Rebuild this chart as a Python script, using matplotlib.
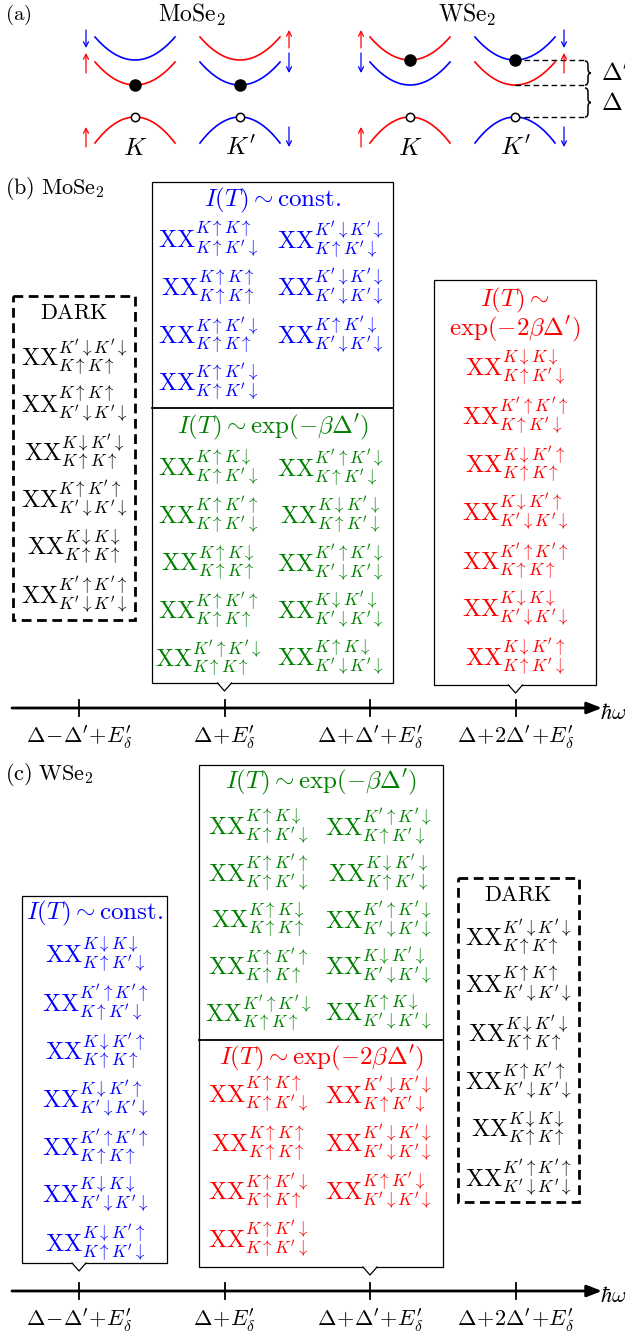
import matplotlib
matplotlib.use("Agg")
import matplotlib.pyplot as plt
from matplotlib.patches import Rectangle, Polygon, PathPatch
from matplotlib.path import Path
import numpy as np

plt.rcParams['mathtext.fontset'] = 'cm'

BLUE = '#0000ff'
RED = '#ff0000'
GREEN = '#008000'

# biexciton states, (upper index, lower index)
group_const_mo = [("K↑K↑", "K↑K'↓"), ("K'↓K'↓", "K↑K'↓"),
                  ("K↑K↑", "K↑K↑"), ("K'↓K'↓", "K'↓K'↓"),
                  ("K↑K'↓", "K↑K↑"), ("K↑K'↓", "K'↓K'↓"),
                  ("K↑K'↓", "K↑K'↓")]
group_exp1 = [("K↑K↓", "K↑K'↓"), ("K'↑K'↓", "K↑K'↓"),
              ("K↑K'↑", "K↑K'↓"), ("K↓K'↓", "K↑K'↓"),
              ("K↑K↓", "K↑K↑"), ("K'↑K'↓", "K'↓K'↓"),
              ("K↑K'↑", "K↑K↑"), ("K↓K'↓", "K'↓K'↓"),
              ("K'↑K'↓", "K↑K↑"), ("K↑K↓", "K'↓K'↓")]
group_exp2_mo = [("K↓K↓", "K↑K'↓"), ("K'↑K'↑", "K↑K'↓"),
                 ("K↓K'↑", "K↑K↑"), ("K↓K'↑", "K'↓K'↓"),
                 ("K'↑K'↑", "K↑K↑"), ("K↓K↓", "K'↓K'↓"),
                 ("K↓K'↑", "K↑K'↓")]
group_dark = [("K'↓K'↓", "K↑K↑"), ("K↑K↑", "K'↓K'↓"),
              ("K↓K'↓", "K↑K↑"), ("K↑K'↑", "K'↓K'↓"),
              ("K↓K↓", "K↑K↑"), ("K'↑K'↑", "K'↓K'↓")]

tick_labels = [r"$\Delta\!-\!\Delta^{\prime}\!+\!E^{\prime}_{\delta}$",
               r"$\Delta\!+\!E^{\prime}_{\delta}$",
               r"$\Delta\!+\!\Delta^{\prime}\!+\!E^{\prime}_{\delta}$",
               r"$\Delta\!+\!2\Delta^{\prime}\!+\!E^{\prime}_{\delta}$"]

# panel (a) band edges (pixel rows): upper cb, lower cb, vb
cb_upper = 60
cb_lower = 85
vb_top = 117
valleys_mo = [("K", [BLUE, RED, RED], 1), ("K'", [RED, BLUE, BLUE], 1)]
valleys_w = [("K", [RED, BLUE, RED], 0), ("K'", [BLUE, RED, BLUE], 0)]

FS = 17.5
FT = 18


def xx(pair):
    def conv(s):
        return s.replace("↑", r"\uparrow ").replace("↓", r"\downarrow ")
    return r"$\mathrm{XX}^{%s}_{%s}$" % (conv(pair[0]), conv(pair[1]))


fig = plt.figure(figsize=(6.25, 13.33), dpi=100)
ax = fig.add_axes([0, 0, 1, 1])
ax.set_xlim(0, 625)
ax.set_ylim(1333, 0)
ax.axis('off')


def box(x0, y0, x1, y1, dashed=False, pointer=None):
    if dashed:
        ax.add_patch(Rectangle((x0, y0), x1 - x0, y1 - y0, fill=False, ec='k',
                               lw=2, ls=(0, (3.5, 2))))
    else:
        ax.add_patch(Rectangle((x0, y0), x1 - x0, y1 - y0, fill=False, ec='k', lw=0.9))
    if pointer is not None:
        ax.add_patch(Polygon([(pointer - 7, y1 - 0.5), (pointer, y1 + 8), (pointer + 7, y1 - 0.5)],
                             closed=True, fc='white', ec='none', zorder=3))
        ax.plot([pointer - 7, pointer, pointer + 7], [y1, y1 + 8, y1], color='k', lw=0.9, zorder=4)


def entries(states, cols, y0, dy, color):
    for i, st in enumerate(states):
        r, c = divmod(i, len(cols))
        ax.text(cols[c], y0 + r * dy, xx(st), color=color, fontsize=FS, ha='center', va='center')


def energy_axis(y):
    ax.annotate('', xy=(602, y), xytext=(12, y),
                arrowprops=dict(arrowstyle='-|>,head_length=0.9,head_width=0.35', lw=2, color='k',
                                shrinkA=0, shrinkB=0))
    for i, lab in enumerate(tick_labels):
        tx = 79 + 145.5 * i
        ax.plot([tx, tx], [y - 8, y + 8], color='k', lw=1.3)
        ax.text(tx, y + 29, lab, fontsize=16, ha='center', va='center')
    ax.text(600, y + 5, r'$\hbar\omega$', fontsize=16, ha='left', va='center')


def brace(x, y0, y1, w=6):
    ym = (y0 + y1) / 2
    r = 4
    xm = x + w / 2
    verts = [(x, y0), (xm, y0), (xm, y0 + r), (xm, ym - r), (xm, ym), (x + w, ym),
             (xm, ym), (xm, ym + r), (xm, y1 - r), (xm, y1), (x, y1)]
    codes = [Path.MOVETO, Path.CURVE3, Path.CURVE3, Path.LINETO, Path.CURVE3, Path.CURVE3,
             Path.CURVE3, Path.CURVE3, Path.LINETO, Path.CURVE3, Path.CURVE3]
    ax.add_patch(PathPatch(Path(verts, codes), fill=False, ec='k', lw=1.1))


# ---------- panel (a)
ax.text(5, 15, r'$\mathrm{(a)}$', fontsize=15, ha='left', va='center')
ax.text(192, 15, r'$\mathrm{MoSe}_2$', fontsize=17, ha='center', va='center')
ax.text(467, 15, r'$\mathrm{WSe}_2$', fontsize=17, ha='center', va='center')

k = np.linspace(-1, 1, 60)


def valley(xc, name, colors, dot_band, arrow_side):
    hw = 40
    ax.plot(xc + hw * k, cb_upper - 23 * k ** 2, color=colors[0], lw=1.2)
    ax.plot(xc + hw * k, cb_lower - 23 * k ** 2, color=colors[1], lw=1.2)
    ax.plot(xc + hw * k, vb_top + 26 * k ** 2, color=colors[2], lw=1.2)
    ydot = cb_upper if dot_band == 0 else cb_lower
    ax.plot(xc, ydot, 'o', ms=8, color='k', zorder=5)
    ax.plot(xc, vb_top, 'o', ms=6, mfc='white', mec='k', mew=1.1, zorder=5)
    ax.text(xc, 148, r'$%s$' % name, fontsize=18, ha='center', va='center')
    xa = xc + arrow_side * 49
    for (ya, yb), c in zip([(30, 48), (53, 73), (127, 147)], colors):
        up = c == RED
        start, end = (yb, ya) if up else (ya, yb)
        ax.annotate('', xy=(xa, end), xytext=(xa, start),
                    arrowprops=dict(arrowstyle='->,head_length=0.35,head_width=0.18',
                                    color=c, lw=0.9, shrinkA=0, shrinkB=0))


for (name, cols, dot), xc, side in zip(valleys_mo, [135, 240], [-1, 1]):
    valley(xc, name, cols, dot, side)
for (name, cols, dot), xc, side in zip(valleys_w, [410, 515], [-1, 1]):
    valley(xc, name, cols, dot, side)

for yl in [cb_upper, cb_lower, vb_top]:
    ax.plot([515, 585], [yl, yl], color='k', lw=1, ls=(0, (4, 2.5)))
brace(585, 61, 85)
brace(585, 88, 117)
ax.text(601, 74, r"$\Delta'$", fontsize=18, ha='left', va='center')
ax.text(601, 103, r"$\Delta$", fontsize=18, ha='left', va='center')

# ---------- panel (b) MoSe2
ax.text(5, 188, r'$\mathrm{(b)\ MoSe}_2$', fontsize=16, ha='left', va='center')

box(152, 182, 393, 683, pointer=224.5)
ax.plot([152, 393], [408, 408], color='k', lw=1.3)
ax.text(273, 200, r'$I(T)\sim\mathrm{const.}$', color=BLUE, fontsize=FT, ha='center', va='center')
entries(group_const_mo, [208, 330], 240, 47.5, BLUE)
ax.text(273, 427, r"$I(T)\sim\exp(-\beta\Delta')$", color=GREEN, fontsize=FT, ha='center', va='center')
entries(group_exp1, [208, 330], 468, 47.5, GREEN)

box(13, 296, 135, 620, dashed=True)
ax.text(74, 313, r'$\mathrm{DARK}$', fontsize=16, ha='center', va='center')
entries(group_dark, [74], 357, 47.6, 'k')

box(434, 280, 596, 685, pointer=515.5)
ax.text(515, 300, r'$I(T)\sim$', color=RED, fontsize=FT, ha='center', va='center')
ax.text(515, 329, r"$\exp(-2\beta\Delta')$", color=RED, fontsize=FT, ha='center', va='center')
entries(group_exp2_mo, [515], 368, 48.2, RED)

energy_axis(708)

# ---------- panel (c) WSe2
ax.text(5, 775, r'$\mathrm{(c)\ WSe}_2$', fontsize=16, ha='left', va='center')

box(199, 765, 443, 1267, pointer=370)
ax.plot([199, 443], [1040, 1040], color='k', lw=1.3)
ax.text(321, 782, r"$I(T)\sim\exp(-\beta\Delta')$", color=GREEN, fontsize=FT, ha='center', va='center')
entries(group_exp1, [258, 378], 827, 46.5, GREEN)
ax.text(321, 1058, r"$I(T)\sim\exp(-2\beta\Delta')$", color=RED, fontsize=FT, ha='center', va='center')
entries(group_const_mo, [258, 378], 1095, 48.3, RED)

box(22, 896, 167, 1263, pointer=79)
ax.text(94.5, 913, r'$I(T)\sim\mathrm{const.}$', color=BLUE, fontsize=FT, ha='center', va='center')
entries(group_exp2_mo, [95], 955, 48, BLUE)

box(458, 878, 579, 1202, dashed=True)
ax.text(518, 895, r'$\mathrm{DARK}$', fontsize=16, ha='center', va='center')
entries(group_dark, [518], 937, 48.2, 'k')

energy_axis(1291)

fig.savefig('out.png', dpi=100)
